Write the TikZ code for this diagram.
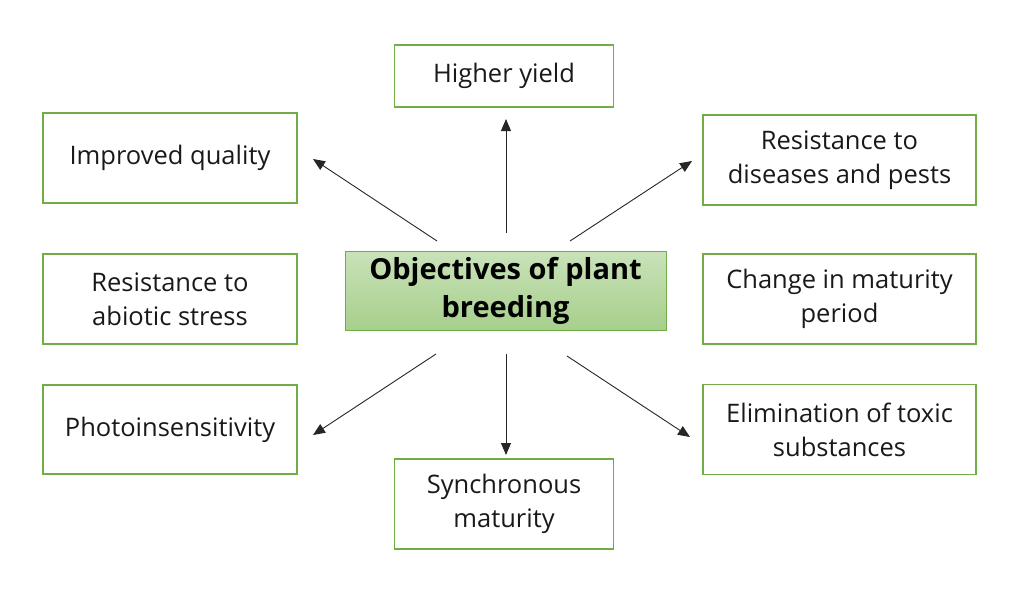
\documentclass[tikz,border=0pt]{standalone}
\usepackage{fontspec}
\setmainfont{Open Sans}
\usetikzlibrary{arrows.meta}
\definecolor{leafgreen}{HTML}{70AD47}
\definecolor{hubtop}{HTML}{C9E2B9}
\definecolor{hubbottom}{HTML}{A6CF8B}
\begin{document}
\begin{tikzpicture}[
    x=1pt, y=-1pt,
    goal/.style={draw=leafgreen, line width=1.6pt, align=center, inner sep=0pt,
      font=\fontsize{25.5}{34}\selectfont, text=black!90},
    hub/.style={draw=leafgreen, line width=1pt, align=center, inner sep=0pt,
      top color=hubtop, bottom color=hubbottom,
      minimum width=321pt, minimum height=79pt,
      font=\fontsize{29}{38}\selectfont\bfseries},
    link/.style={-{Triangle[length=12pt,width=10pt]}, line width=0.9pt, draw=black!85},
    >=Triangle
  ]
    \useasboundingbox (0,0) rectangle (1020,598);

    \node[hub] (hub) at (505.5,291) {Objectives of plant\\breeding};

    \node[goal, minimum width=219pt, minimum height=62pt] (yield) at (504,76) {Higher yield};
    \node[goal, minimum width=254pt, minimum height=90pt] (quality) at (170,158) {Improved quality};
    \node[goal, minimum width=273pt, minimum height=90pt] (pests) at (839.5,160) {Resistance to\\diseases and pests};
    \node[goal, minimum width=254pt, minimum height=90pt] (abiotic) at (170,299) {Resistance to\\abiotic stress};
    \node[goal, minimum width=273pt, minimum height=90pt] (maturity) at (839.5,299) {Change in maturity\\period};
    \node[goal, minimum width=254pt, minimum height=89pt] (photo) at (170,429.5) {Photoinsensitivity};
    \node[goal, minimum width=273pt, minimum height=90pt] (toxic) at (839.5,429.5) {Elimination of toxic\\substances};
    \node[goal, minimum width=219pt, minimum height=90pt] (sync) at (504,504) {Synchronous\\maturity};

    % free ends of the arrows
    \coordinate (upS) at (506,233);
    \coordinate (upE) at (506,119);
    \coordinate (ulS) at (437,241);
    \coordinate (ulE) at (313,159);
    \coordinate (urS) at (570,241);
    \coordinate (urE) at (692,161);
    \coordinate (llS) at (436,354);
    \coordinate (llE) at (313,435);
    \coordinate (dnS) at (506,354);
    \coordinate (dnE) at (506,455);
    \coordinate (lrS) at (567,356);
    \coordinate (lrE) at (690,437);

    \draw[link] (upS) -- (upE);
    \draw[link] (ulS) -- (ulE);
    \draw[link] (urS) -- (urE);
    \draw[link] (llS) -- (llE);
    \draw[link] (dnS) -- (dnE);
    \draw[link] (lrS) -- (lrE);
\end{tikzpicture}
\end{document}
